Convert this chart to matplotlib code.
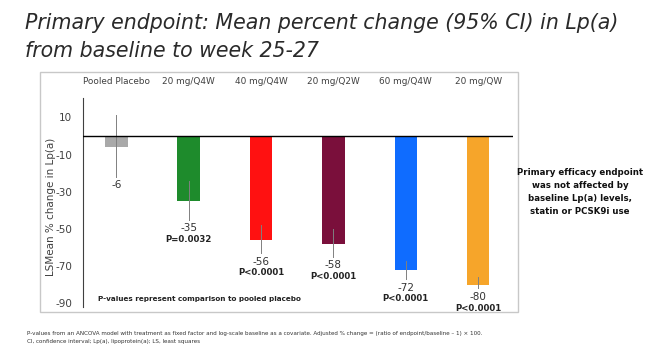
import matplotlib.pyplot as plt
from matplotlib.patches import Rectangle

groups = ["Pooled Placebo", "20 mg/Q4W", "40 mg/Q4W", "20 mg/Q2W", "60 mg/Q4W", "20 mg/QW"]
means = [-6, -35, -56, -58, -72, -80]
ci_low = [-22, -45, -63, -65, -77, -82]
ci_high = [11, -24, -48, -50, -67, -76]
pvals = ["", "P=0.0032", "P<0.0001", "P<0.0001", "P<0.0001", "P<0.0001"]
colors = ["#A9A9A9", "#1E8B2C", "#FF1111", "#7A0F3B", "#0F6CFF", "#F6A52A"]
yticks = [10, -10, -30, -50, -70, -90]

fig = plt.figure(figsize=(6.54, 3.64), dpi=100)
fig.patch.set_facecolor("white")

# chart frame
fig.patches.append(Rectangle((40 / 654, 1 - 312 / 364), 478 / 654, 240 / 364,
                             transform=fig.transFigure, fill=False,
                             edgecolor="#C8C8C8", linewidth=1))

ax = fig.add_axes([83 / 654, 1 - 307 / 364, 430 / 654, 209 / 364])
x = list(range(len(groups)))
ax.bar(x, means, width=0.31, color=colors, zorder=2)
for i in x:
    ax.plot([i, i], [ci_low[i], ci_high[i]], color="#808080", linewidth=0.7, zorder=3)
    ax.annotate(str(means[i]), (i, ci_low[i]), xytext=(0, -6.2), textcoords="offset points",
                ha="center", va="center", fontsize=7.5, color="#333333")
    if pvals[i]:
        ax.annotate(pvals[i], (i, ci_low[i]), xytext=(0, -14.3), textcoords="offset points",
                    ha="center", va="center", fontsize=6.2, fontweight="bold", color="#222222")
ax.axhline(0, color="black", linewidth=1, zorder=4)

ax.set_xlim(-0.46, 5.48)
ax.set_ylim(-92, 20.4)
ax.set_yticks(yticks)
ax.set_yticklabels([str(v) for v in yticks], fontsize=7.5, color="#404040")
ax.set_xticks(x)
ax.set_xticklabels(groups, fontsize=6.4, color="#404040")
ax.xaxis.tick_top()
ax.tick_params(axis="x", length=0, pad=9)
ax.tick_params(axis="y", length=0, pad=8)
for s in ["top", "right", "bottom"]:
    ax.spines[s].set_visible(False)
ax.spines["left"].set_color("#404040")
ax.spines["left"].set_linewidth(0.8)
ax.set_ylabel("LSMean % change in Lp(a)", fontsize=7.5, color="#404040")
ax.yaxis.set_label_coords(-0.062, 0.48)

ax.text(-0.25, -87.5, "P-values represent comparison to pooled placebo", fontsize=5.2,
        fontweight="bold", color="#222222", va="center", ha="left")

fig.text(25 / 654, 1 - 23 / 364, "Primary endpoint: Mean percent change (95% CI) in Lp(a)",
         fontsize=14.8, style="italic", fontweight="light", color="#2a2a2a", va="center")
fig.text(25 / 654, 1 - 51 / 364, "from baseline to week 25-27",
         fontsize=14.8, style="italic", fontweight="light", color="#2a2a2a", va="center")

fig.text(580 / 654, 1 - 192 / 364,
         "Primary efficacy endpoint\nwas not affected by\nbaseline Lp(a) levels,\nstatin or PCSK9i use",
         fontsize=6.2, fontweight="bold", color="#111111", ha="center", va="center",
         linespacing=1.55)

fig.text(27 / 654, 1 - 334 / 364,
         "P-values from an ANCOVA model with treatment as fixed factor and log-scale baseline as a covariate. "
         "Adjusted % change = (ratio of endpoint/baseline \u2013 1) \u00d7 100.",
         fontsize=4.05, color="#333333", va="center")
fig.text(27 / 654, 1 - 341 / 364, "CI, confidence interval; Lp(a), lipoprotein(a); LS, least squares",
         fontsize=4.05, color="#333333", va="center")

fig.savefig("out.png", dpi=100)
